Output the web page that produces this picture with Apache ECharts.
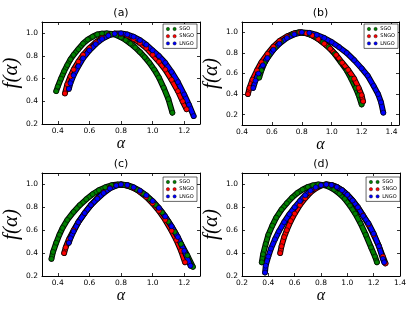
<!DOCTYPE html>
<html>
<head>
<meta charset="utf-8">
<script src="https://cdn.jsdelivr.net/npm/echarts@6/dist/echarts.min.js"></script>
<style>
html,body{margin:0;padding:0;background:#fff;}
#c{width:415px;height:312px;}
</style>
</head>
<body>
<div id="c"></div>
<script>
// ---- data: [alpha, f(alpha)] ----
const names = ['SGO', 'SNGO', 'LNGO'];
const titles = ['(a)', '(b)', '(c)', '(d)'];

const a_SGO = [[0.39,0.49],[0.40,0.53],[0.42,0.60],[0.44,0.665],[0.46,0.72],[0.48,0.77],[0.50,0.81],[0.53,0.86],[0.56,0.91],[0.59,0.945],[0.62,0.97],[0.65,0.99],[0.68,0.998],[0.71,1.0],[0.74,0.995],[0.77,0.985],[0.80,0.965],[0.83,0.94],[0.86,0.91],[0.89,0.875],[0.92,0.835],[0.95,0.79],[0.98,0.74],[1.01,0.68],[1.04,0.61],[1.07,0.52],[1.10,0.42],[1.125,0.30]];
const a_SNGO = [[0.445,0.47],[0.46,0.55],[0.48,0.62],[0.50,0.68],[0.53,0.75],[0.56,0.81],[0.60,0.87],[0.64,0.92],[0.68,0.96],[0.72,0.985],[0.76,0.998],[0.80,0.995],[0.84,0.98],[0.88,0.95],[0.92,0.915],[0.96,0.87],[1.00,0.81],[1.04,0.75],[1.08,0.68],[1.12,0.59],[1.16,0.49],[1.19,0.40],[1.215,0.33]];
const a_LNGO = [[0.47,0.51],[0.48,0.56],[0.50,0.63],[0.53,0.71],[0.56,0.78],[0.60,0.85],[0.64,0.905],[0.68,0.95],[0.72,0.98],[0.76,0.997],[0.80,1.0],[0.84,0.99],[0.88,0.97],[0.92,0.94],[0.96,0.90],[1.00,0.85],[1.04,0.80],[1.08,0.74],[1.12,0.66],[1.16,0.57],[1.20,0.46],[1.23,0.37],[1.26,0.27]];

const b_SGO = [[0.515,0.56],[0.53,0.63],[0.55,0.70],[0.58,0.78],[0.62,0.85],[0.66,0.91],[0.70,0.955],[0.74,0.985],[0.78,1.0],[0.82,0.995],[0.86,0.975],[0.90,0.945],[0.94,0.905],[0.98,0.855],[1.02,0.79],[1.06,0.71],[1.10,0.63],[1.13,0.55],[1.16,0.46],[1.18,0.39],[1.20,0.30]];
const b_SNGO = [[0.44,0.40],[0.45,0.46],[0.47,0.54],[0.50,0.63],[0.53,0.71],[0.57,0.79],[0.61,0.86],[0.65,0.915],[0.70,0.96],[0.75,0.99],[0.79,1.0],[0.83,0.99],[0.87,0.97],[0.91,0.935],[0.95,0.89],[0.99,0.84],[1.03,0.78],[1.07,0.705],[1.11,0.635],[1.15,0.55],[1.18,0.46],[1.20,0.39],[1.21,0.33]];
const b_LNGO = [[0.475,0.46],[0.49,0.53],[0.51,0.60],[0.54,0.68],[0.57,0.75],[0.61,0.83],[0.65,0.89],[0.70,0.945],[0.75,0.98],[0.80,1.0],[0.85,0.995],[0.90,0.975],[0.95,0.945],[1.00,0.905],[1.05,0.855],[1.10,0.80],[1.15,0.73],[1.20,0.65],[1.24,0.58],[1.28,0.48],[1.31,0.40],[1.33,0.32],[1.345,0.22]];

const c_SGO = [[0.36,0.35],[0.37,0.41],[0.39,0.49],[0.41,0.56],[0.43,0.62],[0.46,0.69],[0.50,0.76],[0.54,0.82],[0.58,0.87],[0.62,0.915],[0.66,0.95],[0.70,0.975],[0.74,0.993],[0.78,1.0],[0.82,0.995],[0.86,0.98],[0.90,0.955],[0.94,0.92],[0.98,0.875],[1.02,0.82],[1.06,0.755],[1.10,0.675],[1.14,0.585],[1.18,0.48],[1.22,0.38],[1.255,0.28]];
const c_SNGO = [[0.44,0.40],[0.45,0.45],[0.47,0.52],[0.50,0.60],[0.53,0.67],[0.57,0.75],[0.61,0.82],[0.65,0.88],[0.69,0.93],[0.73,0.97],[0.77,0.993],[0.80,1.0],[0.84,0.99],[0.88,0.97],[0.92,0.935],[0.96,0.89],[1.00,0.835],[1.04,0.77],[1.08,0.69],[1.12,0.595],[1.15,0.515],[1.18,0.42],[1.205,0.32]];
const c_LNGO = [[0.47,0.49],[0.48,0.53],[0.50,0.59],[0.53,0.67],[0.57,0.75],[0.61,0.82],[0.65,0.875],[0.69,0.925],[0.73,0.965],[0.77,0.99],[0.80,1.0],[0.84,0.995],[0.88,0.975],[0.92,0.945],[0.96,0.905],[1.00,0.855],[1.04,0.795],[1.08,0.72],[1.12,0.635],[1.16,0.54],[1.20,0.42],[1.24,0.29]];

const d_SGO = [[0.35,0.32],[0.36,0.39],[0.38,0.48],[0.40,0.56],[0.43,0.64],[0.46,0.71],[0.50,0.78],[0.54,0.835],[0.58,0.885],[0.62,0.925],[0.66,0.955],[0.70,0.978],[0.74,0.993],[0.78,1.0],[0.82,0.995],[0.86,0.98],[0.90,0.955],[0.94,0.92],[0.98,0.875],[1.02,0.815],[1.06,0.745],[1.10,0.66],[1.14,0.56],[1.18,0.45],[1.21,0.37],[1.225,0.32]];
const d_SNGO = [[0.49,0.40],[0.50,0.46],[0.52,0.54],[0.54,0.60],[0.57,0.68],[0.60,0.745],[0.64,0.82],[0.68,0.88],[0.72,0.93],[0.76,0.965],[0.80,0.99],[0.84,1.0],[0.88,0.995],[0.92,0.978],[0.96,0.95],[1.00,0.91],[1.04,0.86],[1.08,0.80],[1.12,0.73],[1.16,0.65],[1.20,0.56],[1.24,0.46],[1.27,0.37],[1.29,0.31]];
const d_LNGO = [[0.375,0.23],[0.38,0.29],[0.40,0.37],[0.42,0.44],[0.45,0.52],[0.48,0.59],[0.52,0.67],[0.56,0.74],[0.60,0.80],[0.64,0.855],[0.68,0.905],[0.72,0.945],[0.76,0.975],[0.80,0.993],[0.84,1.0],[0.88,0.995],[0.92,0.978],[0.96,0.95],[1.00,0.91],[1.04,0.86],[1.08,0.80],[1.12,0.725],[1.16,0.66],[1.20,0.57],[1.24,0.46],[1.27,0.35],[1.28,0.32]];

// axis ranges and tick labels
const xRanges = [[0.3,1.3],[0.4,1.45],[0.3,1.3],[0.2,1.4]];
const yRanges = [[0.2,1.1],[0.1,1.1],[0.2,1.1],[0.2,1.1]];
const xTicks = [[0.4,0.6,0.8,1.0,1.2],[0.4,0.6,0.8,1.0,1.2,1.4],[0.4,0.6,0.8,1.0,1.2],[0.2,0.4,0.6,0.8,1.0,1.2,1.4]];
const yTicks = [[0.2,0.4,0.6,0.8,1.0],[0.2,0.4,0.6,0.8,1.0],[0.2,0.4,0.6,0.8,1.0],[0.2,0.4,0.6,0.8,1.0]];

const panels = [[a_SGO,a_SNGO,a_LNGO],[b_SGO,b_SNGO,b_LNGO],[c_SGO,c_SNGO,c_LNGO],[d_SGO,d_SNGO,d_LNGO]];
const colors = ['#008000','#ff0000','#0000ff'];

// ---- layout ----
const grids = [
  {left:42, top:22, width:158, height:102},
  {left:242, top:22, width:157, height:103},
  {left:42, top:173, width:158, height:103},
  {left:242, top:173, width:158, height:103}
];
const legendPos = [
  {right:218, top:24},
  {right:17, top:24},
  {right:218, top:177},
  {right:15, top:177}
];

const font = 'DejaVu Sans';
const xAxis = [], yAxis = [], series = [], legend = [];
const tickStyle = {show:true, inside:true, length:3, lineStyle:{color:'#000', width:0.8}};
const lineStyle = {show:true, lineStyle:{color:'#000', width:1}};

for (let p = 0; p < 4; p++) {
  const fmt = v => v.toFixed(1);
  xAxis.push({
    gridIndex:p, type:'value', position:'bottom', min:xRanges[p][0], max:xRanges[p][1],
    axisLine:lineStyle, splitLine:{show:false},
    axisTick:Object.assign({customValues:xTicks[p]}, tickStyle),
    axisLabel:{customValues:xTicks[p], formatter:fmt, fontFamily:font, fontSize:7.5, color:'#000', margin:3},
    name:'α', nameLocation:'middle', nameGap:12,
    nameTextStyle:{fontFamily:'Liberation Serif', fontStyle:'italic', fontSize:16, color:'#000'}
  });
  xAxis.push({
    gridIndex:p, type:'value', position:'top', min:xRanges[p][0], max:xRanges[p][1],
    axisLine:lineStyle, splitLine:{show:false},
    axisTick:Object.assign({customValues:xTicks[p]}, tickStyle),
    axisLabel:{show:false},
    name:titles[p], nameLocation:'middle', nameGap:3,
    nameTextStyle:{fontFamily:font, fontSize:11, color:'#000'}
  });
  yAxis.push({
    gridIndex:p, type:'value', position:'left', min:yRanges[p][0], max:yRanges[p][1],
    axisLine:lineStyle, splitLine:{show:false},
    axisTick:Object.assign({customValues:yTicks[p]}, tickStyle),
    axisLabel:{customValues:yTicks[p], formatter:fmt, fontFamily:font, fontSize:7.5, color:'#000', margin:4},
    name:'f(α)', nameLocation:'middle', nameGap:16,
    nameTextStyle:{fontFamily:'Liberation Serif', fontStyle:'italic', fontSize:21, color:'#000'}
  });
  yAxis.push({
    gridIndex:p, type:'value', position:'right', min:yRanges[p][0], max:yRanges[p][1],
    axisLine:lineStyle, splitLine:{show:false},
    axisTick:Object.assign({customValues:yTicks[p]}, tickStyle),
    axisLabel:{show:false}
  });
  for (let c = 0; c < 3; c++) {
    const data = panels[p][c];
    series.push({
      type:'line', name:names[c] + '_edge', xAxisIndex:2*p, yAxisIndex:2*p,
      data:data, showSymbol:false, smooth:false, silent:true,
      lineStyle:{color:'#000', width:5.8, cap:'round', join:'round'}
    });
    series.push({
      type:'line', name:names[c], xAxisIndex:2*p, yAxisIndex:2*p,
      data:data, symbol:'circle', symbolSize:5, showSymbol:true, silent:true,
      itemStyle:{color:colors[c], borderColor:'#000', borderWidth:0.6},
      lineStyle:{color:colors[c], width:3.8, cap:'round', join:'round'}
    });
  }
  legend.push(Object.assign({
    orient:'vertical', selectedMode:false,
    data:names.map((n, i) => ({name:n, itemStyle:{color:colors[i], borderColor:'#000', borderWidth:0.4}})),
    icon:'path://M2,0A2,2 0 1,1 2,4A2,2 0 1,1 2,0ZM10,0A2,2 0 1,1 10,4A2,2 0 1,1 10,0Z',
    itemWidth:10, itemHeight:3.6, itemGap:1.2,
    padding:[2,3,2,3], borderColor:'#000', borderWidth:0.6, backgroundColor:'#fff',
    textStyle:{fontFamily:font, fontSize:5, color:'#000', lineHeight:6, padding:[0,0,0,-2]}
  }, legendPos[p]));
}

const chart = echarts.init(document.getElementById('c'), null, {renderer:'canvas'});
chart.setOption({
  animation:false,
  backgroundColor:'#fff',
  grid:grids,
  xAxis:xAxis,
  yAxis:yAxis,
  legend:legend,
  series:series
});
</script>
</body>
</html>
